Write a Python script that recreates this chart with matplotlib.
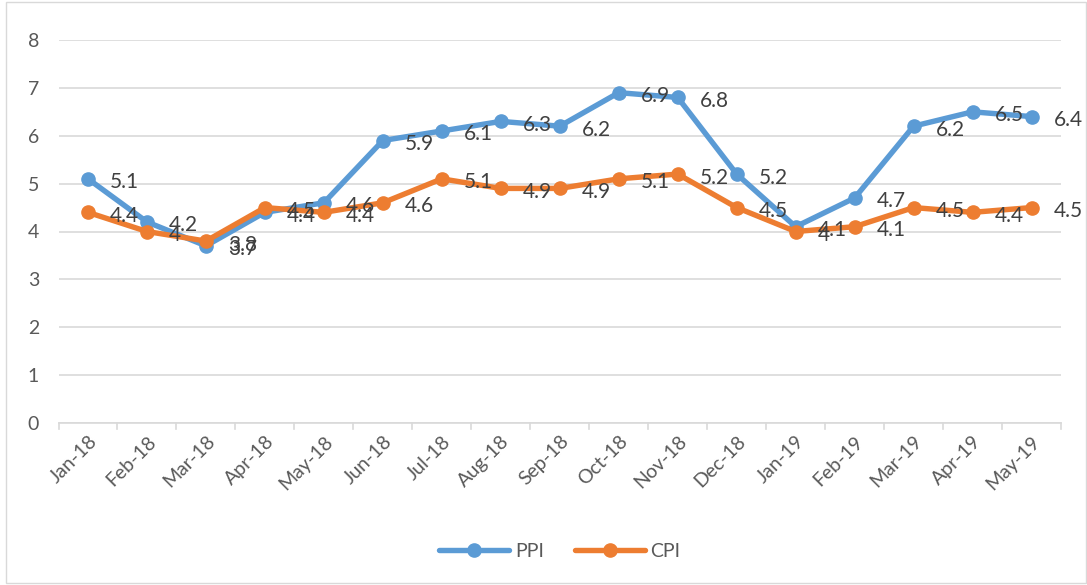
import numpy as np
import matplotlib
matplotlib.use('Agg')
import matplotlib.pyplot as plt
from matplotlib.patches import Rectangle

months = ['Jan-18', 'Feb-18', 'Mar-18', 'Apr-18', 'May-18', 'Jun-18', 'Jul-18',
          'Aug-18', 'Sep-18', 'Oct-18', 'Nov-18', 'Dec-18', 'Jan-19', 'Feb-19',
          'Mar-19', 'Apr-19', 'May-19']
ppi = [5.1, 4.2, 3.7, 4.4, 4.6, 5.9, 6.1, 6.3, 6.2, 6.9, 6.8, 5.2, 4.1, 4.7, 6.2, 6.5, 6.4]
cpi = [4.4, 4.0, 3.8, 4.5, 4.4, 4.6, 5.1, 4.9, 4.9, 5.1, 5.2, 4.5, 4.0, 4.1, 4.5, 4.4, 4.5]

plt.rcParams['font.family'] = ['Lato', 'DejaVu Sans']
txt = '#595959'
blue = '#5B9BD5'
orange = '#ED7D31'

fig = plt.figure(figsize=(10.87, 5.85), dpi=100)
ax = fig.add_axes([58.5 / 1087, 1 - 423 / 585, (1061 - 58.5) / 1087, 383 / 585])

# outer chart frame
fig.patches.append(Rectangle((6 / 1087, 0.003), 1 - 7 / 1087, 0.994, transform=fig.transFigure,
                             fill=False, edgecolor='#D9D9D9', linewidth=1))

x = np.arange(len(months))
ax.plot(x, ppi, color=blue, lw=3.9, marker='o', ms=9.5, label='PPI', solid_capstyle='round')
ax.plot(x, cpi, color=orange, lw=3.9, marker='o', ms=9.5, label='CPI', solid_capstyle='round')

for xi, v in zip(x, ppi):
    ax.annotate(f'{v:g}', (xi, v), xytext=(16, -2.5), textcoords='offset points',
                ha='left', va='center', fontsize=15, color='#404040')
for xi, v in zip(x, cpi):
    ax.annotate(f'{v:g}', (xi, v), xytext=(16, -2.5), textcoords='offset points',
                ha='left', va='center', fontsize=15, color='#404040')

ax.set_xlim(-0.5, len(months) - 0.5)
ax.set_ylim(0, 8)
ax.set_yticks(range(0, 9))
ax.set_xticks(x)
ax.set_xticklabels(months, rotation=45, ha='right', rotation_mode='anchor')
ax.grid(axis='y', color='#D9D9D9', lw=1.2)
ax.set_axisbelow(True)
for s in ['top', 'right', 'left']:
    ax.spines[s].set_visible(False)
ax.spines['bottom'].set_color('#D9D9D9')
ax.spines['bottom'].set_linewidth(1.2)
ax.tick_params(axis='y', length=0, pad=14, labelsize=14, labelcolor=txt)
ax.tick_params(axis='x', length=0, pad=7, labelsize=14, labelcolor=txt)
# category boundary ticks
for b in np.arange(-0.5, len(months), 1.0):
    ax.plot([b, b], [0, -0.12], color='#D9D9D9', lw=1.2, clip_on=False)

ax.legend(loc='center', bbox_to_anchor=(0.5, -0.335), ncol=2, frameon=False,
          fontsize=14, labelcolor=txt, handlelength=3.6, handletextpad=0.3,
          columnspacing=1.6)

fig.savefig('out.png', dpi=100)
